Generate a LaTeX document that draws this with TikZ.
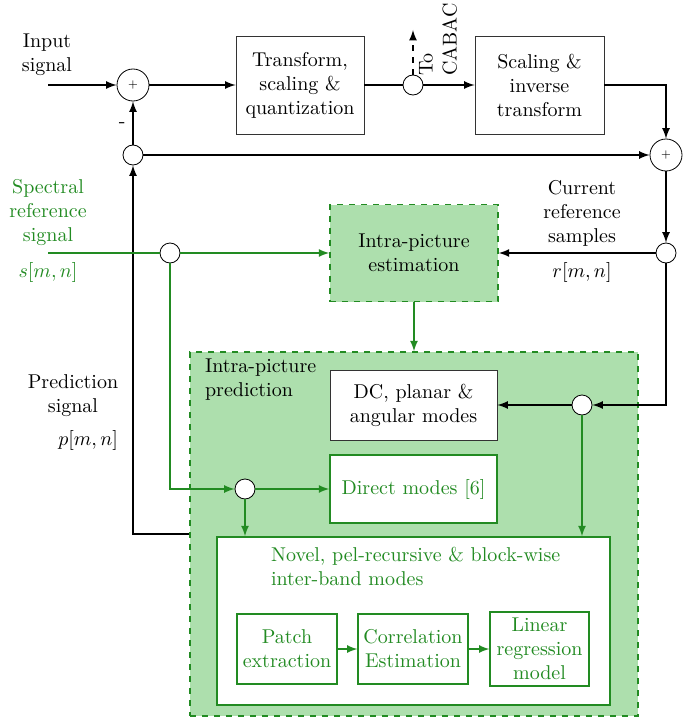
\documentclass[tikz,border=0pt]{standalone}
\usepackage{amsmath}
\usepackage{amssymb}
\usepackage{tikz}
\usetikzlibrary{arrows}
\definecolor{sgreen}{RGB}{34,139,34}
\definecolor{pfill}{RGB}{173,223,173}
\tikzset{
	blk/.style={draw=black!80, fill=white, align=center, inner sep=0pt},
	gblk/.style={draw=sgreen, thick, fill=white, text=sgreen, align=center, inner sep=0pt},
	dblk/.style={draw=sgreen, thick, dashed, fill=pfill, align=center, inner sep=0pt},
	adder/.style={circle, draw, fill=white, minimum size=16pt, inner sep=0pt, font=\tiny},
	junc/.style={circle, draw, fill=white, minimum size=10pt, inner sep=0pt},
	sig/.style={thick, -latex},
	gsig/.style={thick, -latex, draw=sgreen}
}

\begin{document}
\begin{tikzpicture}[x=0.5pt, y=-0.5pt]
			\useasboundingbox (0,0) rectangle (690,717);
			\node[dblk, minimum width=224pt, minimum height=182pt] (pred) at (414,534) {};
			\node[anchor=north west, align=left] (predlbl) at (198,352) {Intra-picture\\prediction};
			\node[adder] (sum1) at (133,85) {+};
			\node[blk, minimum width=64pt, minimum height=49pt] (tq) at (300,85) {Transform,\\scaling \&\\quantization};
			\node[junc] (cab) at (413,85) {};
			\node[blk, minimum width=64.5pt, minimum height=49pt] (sit) at (539.5,85) {Scaling \&\\inverse\\transform};
			\node[adder] (sum2) at (666,155) {+};
			\node[junc] (jfb) at (133,155) {};
			\node[junc] (jr) at (666,253) {};
			\node[dblk, minimum width=84pt, minimum height=48.5pt] (est) at (414,253) {Intra-picture\\estimation};
			\node[junc] (jsp) at (170,253) {};
			\node[blk, minimum width=83.5pt, minimum height=35pt] (dc) at (413.5,405) {DC, planar \&\\angular modes};
			\node[gblk, minimum width=83.5pt, minimum height=34pt] (dm) at (413.5,489) {Direct modes [6]};
			\node[junc] (jdm) at (245,489) {};
			\node[junc] (jang) at (582,405) {};
			\node[gblk, minimum width=196.5pt, minimum height=84pt] (nov) at (413.5,621) {};
			\node[anchor=north west, align=left, text=sgreen] (novlbl) at (264,540) {Novel, pel-recursive \& block-wise\\inter-band modes};
			\node[gblk, semithick, minimum width=50pt, minimum height=35pt] (patch) at (287,649) {Patch\\extraction};
			\node[gblk, semithick, minimum width=55pt, minimum height=35pt] (corr) at (413,649) {Correlation\\Estimation};
			\node[gblk, semithick, minimum width=49.5pt, minimum height=37pt] (lin) at (539.5,649) {Linear\\regression\\model};
			\coordinate (in) at (48,85);
			\coordinate (cabac) at (413,30);
			\coordinate (spin) at (48,253);
			\node[align=center] (inlbl) at (47,55) {Input\\signal};
			\node[align=left, rotate=90, anchor=north west] (cablbl) at (412,83) {To\\CABAC};
			\node[align=center, text=sgreen] (splbl) at (48,213) {Spectral\\reference\\signal};
			\node[text=sgreen] (sp) at (48,272) {$s[m,n]$};
			\node[align=center] (crlbl) at (582,213) {Current\\reference\\samples};
			\node (cr) at (582,272) {$r[m,n]$};
			\node[align=center] (prlbl) at (73,396) {Prediction\\signal};
			\node[anchor=east] (pr) at (125,440) {$p[m,n]$};
			\draw[sig] (in) -- (sum1);
			\draw[sig] (sum1) -- (tq);
			\draw[thick] (tq) -- (cab);
			\draw[sig] (cab) -- (sit);
			\draw[sig, dashed] (cab) -- (cabac);
			\draw[sig] (sit.east) -| (sum2.north);
			\draw[sig] (jfb) -- node[left, pos=0.45] {-} (sum1);
			\draw[sig] (jfb) -- (sum2);
			\draw[sig] (pred.west) -| (jfb.south);
			\draw[sig] (sum2) -- (jr);
			\draw[sig] (jr) -- (est);
			\draw[sig] (jr.south) |- (jang.east);
			\draw[sig] (jang) -- (dc);
			\draw[gsig] (jang.south) -- (jang.south |- nov.north);
			\draw[gsig] (est) -- (pred);
			\draw[thick, sgreen] (spin) -- (jsp);
			\draw[gsig] (jsp) -- (est);
			\draw[gsig] (jsp.south) |- (jdm.west);
			\draw[gsig] (jdm) -- (dm);
			\draw[gsig] (jdm.south) -- (jdm.south |- nov.north);
			\draw[gsig] (patch) -- (corr);
			\draw[gsig] (corr) -- (lin);
		\end{tikzpicture}
\end{document}
